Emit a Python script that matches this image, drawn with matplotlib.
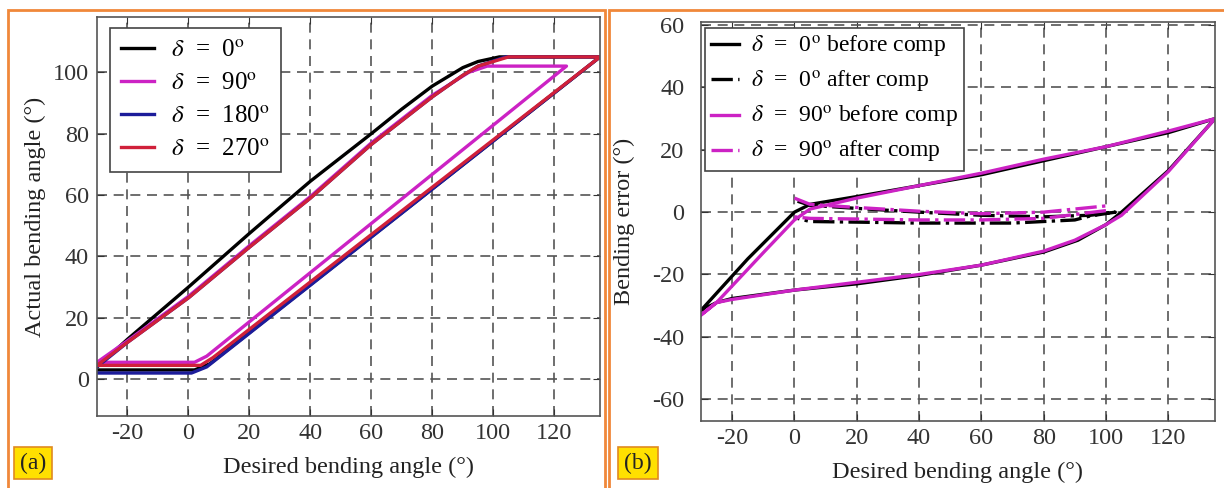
import numpy as np
import matplotlib
matplotlib.use('Agg')
import matplotlib.pyplot as plt
from matplotlib.patches import Rectangle

plt.rcParams['font.family'] = ['Liberation Serif', 'DejaVu Serif']
plt.rcParams['mathtext.fontset'] = 'stix'
plt.rcParams['axes.unicode_minus'] = False

# (a) actual vs desired bending angle, one hysteresis loop per delta
a_labels = [r'$\delta$  =  0$^{\rm o}$', r'$\delta$  =  90$^{\rm o}$',
            r'$\delta$  =  180$^{\rm o}$', r'$\delta$  =  270$^{\rm o}$']
a_colors = ['#000000', '#cc22c4', '#1c1c9a', '#d0203a']

a0_x = [-30, 2, 7, 135, 102, 95, 90, 80, 70, 60, 40, 20, 0, -20, -30]
a0_y = [3, 3, 5, 105, 105, 103.5, 101.5, 95.5, 88, 80, 64.5, 47.5, 30, 13, 4]
a90_x = [-30, 2, 6, 124, 98, 92, 80, 60, 40, 20, 0, -20, -30]
a90_y = [5.5, 5.5, 7.5, 102, 102, 100, 92.5, 77, 59.5, 43.5, 27, 12.5, 5.5]
a180_x = [-30, 1, 6, 135, 104, 95, 90, 80, 60, 40, 20, 0, -20, -30]
a180_y = [2, 2, 4, 105, 105, 102, 99, 92, 76.5, 59, 43, 26.5, 12, 4]
a270_x = [-30, 4, 8, 135, 105, 95, 90, 80, 60, 40, 20, 0, -20, -30]
a270_y = [4.5, 4.5, 7, 105, 105, 102, 99, 92, 76.5, 59, 43, 26.5, 12, 4.5]

# (b) bending error before / after compensation
b_labels = [r'$\delta$  =  0$^{\rm o}$ before comp', r'$\delta$  =  0$^{\rm o}$ after comp',
            r'$\delta$  =  90$^{\rm o}$ before comp', r'$\delta$  =  90$^{\rm o}$ after comp']
b0_before_x = [-30, -15, 0, 5, 20, 40, 60, 80, 100, 120, 135, 120, 105, 100, 91, 80, 60, 40, 20, 0, -20, -25, -30]
b0_before_y = [-31.5, -15, 0, 2.5, 5, 8.5, 12, 16.5, 21, 25.5, 30, 13.3, 0, -4, -9, -12.8, -17, -20.3, -23, -25, -27.7, -29, -31.5]
b0_after_x = [1, 5, 20, 40, 60, 80, 95, 103, 95, 90, 70, 40, 20, 5, 1]
b0_after_y = [3.5, 2.2, 1.2, 0, -1, -1.5, -1, 0, -1.2, -2.5, -3.5, -3.5, -3.2, -3, -2]
b90_before_x = [-30, -25, -10, 0, 5, 20, 40, 60, 80, 100, 120, 135, 120, 105, 100, 90, 80, 60, 40, 20, 0, -20, -25, -30]
b90_before_y = [-33, -29, -13, -2.5, 1, 4.5, 8.5, 12.5, 17, 21, 26, 30, 13, -1, -4, -9, -12.5, -17, -20, -22.5, -25, -28, -29, -33]
b90_after_x = [0, 5, 20, 40, 60, 80, 100, 100, 80, 60, 40, 20, 5, 0]
b90_after_y = [4.5, 2.5, 1.5, 0.3, -0.5, 0, 2, 0.5, -2, -2.5, -2.5, -2.2, -2, -1.5]

xticks = [-20, 0, 20, 40, 60, 80, 100, 120]

W, H = 1224, 488
fig = plt.figure(figsize=(W / 100, H / 100), dpi=100)

# orange panel frames
for x0, x1 in [(8, 605), (609, 1230)]:
    fig.patches.append(Rectangle((x0 / W, -0.05), (x1 - x0) / W, 1.05 - 10 / H,
                                 transform=fig.transFigure, fill=False,
                                 edgecolor='#f0883a', lw=2))

ax1 = fig.add_axes([97 / W, 1 - 416 / H, 503 / W, 399 / H])
ax2 = fig.add_axes([701 / W, 1 - 421 / H, 514 / W, 399 / H])


def style(ax, ypad):
    ax.set_xlim(-30, 135)
    ax.set_xticks(xticks)
    ax.grid(True, color='#555555', linestyle=(0, (6, 4)), lw=1.2)
    ax.set_axisbelow(True)
    ax.tick_params(direction='in', length=5, labelsize=17.5, colors='#333333',
                   top=True, right=True)
    ax.tick_params(axis='x', pad=5)
    ax.tick_params(axis='y', pad=ypad)
    for s in ax.spines.values():
        s.set_color('#555555')
        s.set_linewidth(1.2)
    ax.set_xlabel('Desired bending angle (°)', fontsize=17.5, color='#222222', labelpad=9)


style(ax1, 6)
ax1.set_ylim(-12, 118)
ax1.set_yticks([0, 20, 40, 60, 80, 100])
ax1.set_ylabel('Actual bending angle (°)', fontsize=17.5, color='#222222', labelpad=5)
for xs, ys, c, lab in zip([a0_x, a90_x, a180_x, a270_x], [a0_y, a90_y, a180_y, a270_y],
                          a_colors, a_labels):
    ax1.plot(xs, ys, color=c, lw=2.4, label=lab)
leg1 = ax1.legend(loc='upper left', bbox_to_anchor=(0.026, 0.972), borderaxespad=0,
                  fontsize=18, handlelength=1.3, handletextpad=0.7, labelspacing=0.42,
                  borderpad=0.45, fancybox=False, framealpha=1, edgecolor='#444444')
leg1.get_frame().set_linewidth(1.2)

style(ax2, 12)
ax2.set_ylim(-67, 61)
ax2.set_yticks([-60, -40, -20, 0, 20, 40, 60])
ax2.set_ylabel('Bending error (°)', fontsize=17.5, color='#222222', labelpad=12)
ax2.plot(b0_before_x, b0_before_y, color='#000000', lw=2.4, label=b_labels[0])
ax2.plot(b0_after_x, b0_after_y, color='#000000', lw=2.4, ls='-.', label=b_labels[1])
ax2.plot(b90_before_x, b90_before_y, color='#cc22c4', lw=2.4, label=b_labels[2])
ax2.plot(b90_after_x, b90_after_y, color='#cc22c4', lw=2.4, ls='-.', label=b_labels[3])
leg2 = ax2.legend(loc='upper left', bbox_to_anchor=(0.008, 0.985), borderaxespad=0,
                  fontsize=17, handlelength=1.2, handletextpad=0.5, labelspacing=0.38,
                  borderpad=0.25, fancybox=False, framealpha=1, edgecolor='#444444')
leg2.get_frame().set_linewidth(1.2)

# panel tags
for x, tag in [(33, '(a)'), (638, '(b)')]:
    fig.text(x / W, 1 - 463 / H, tag, ha='center', va='center', fontsize=17,
             color='#222222',
             bbox=dict(boxstyle='square,pad=0.25', facecolor='#ffe000', edgecolor='#e08a20', lw=1.2))

fig.savefig('out.png', dpi=100)
